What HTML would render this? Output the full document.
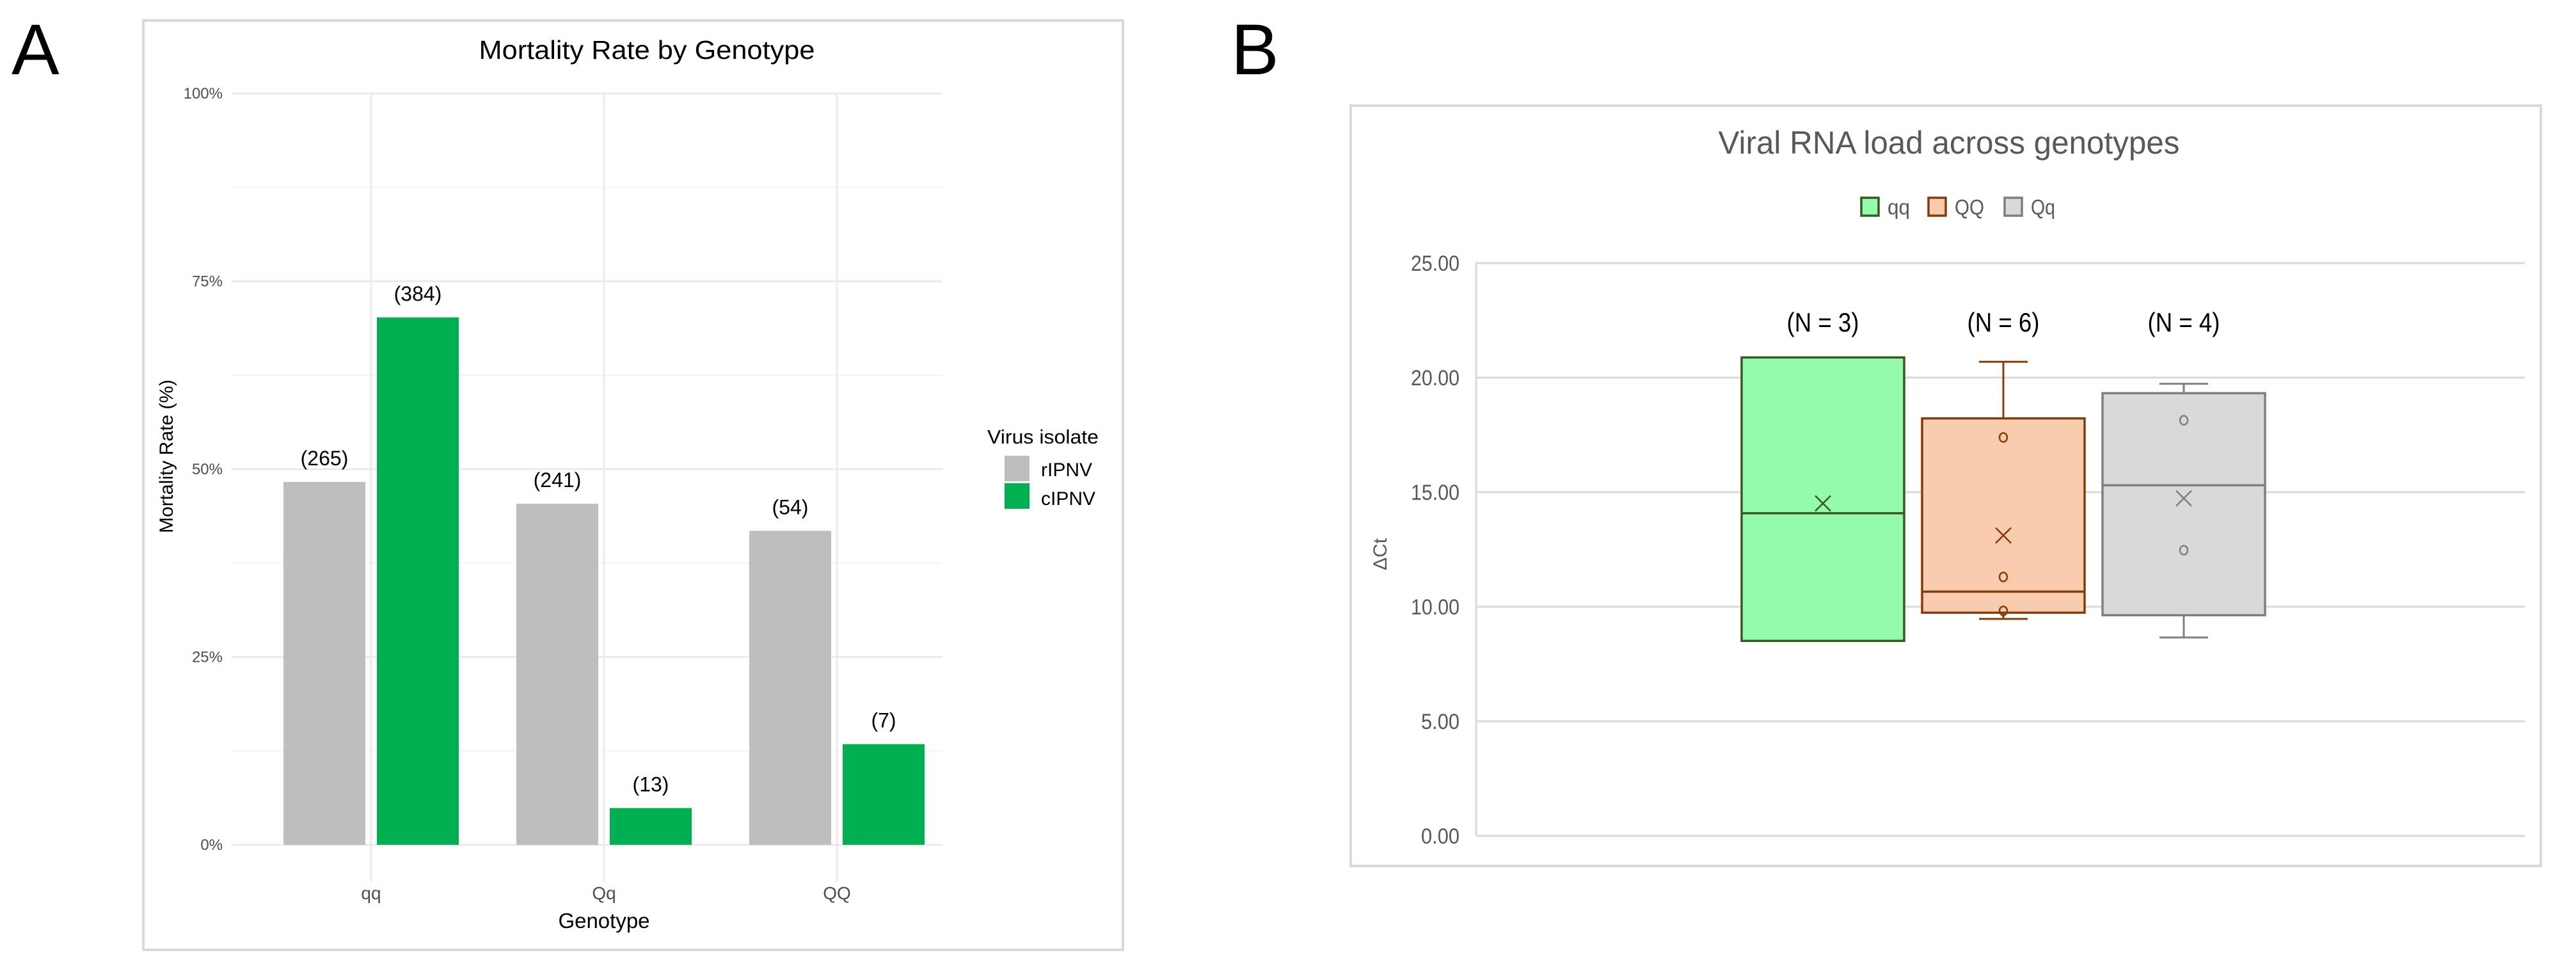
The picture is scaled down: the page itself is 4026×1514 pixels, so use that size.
<!DOCTYPE html>
<html><head><meta charset="utf-8"><style>
html,body{margin:0;padding:0;background:#fff;}
svg{display:block;}
text{font-family:"Liberation Sans",sans-serif;}
.n{font-family:"Liberation Sans Narrow","Liberation Sans",sans-serif;}
</style></head><body>
<svg id="root" width="4026" height="1514" viewBox="0 0 4026 1514" xmlns="http://www.w3.org/2000/svg">
<text x="18" y="116" font-size="112" fill="#000">A</text>
<text x="1924" y="116" font-size="112" fill="#000">B</text>
<rect x="224" y="32" width="1531" height="1452" fill="#fff" stroke="#d9d9d9" stroke-width="4"/>
<rect x="2111" y="165" width="1860" height="1188" fill="#fff" stroke="#d9d9d9" stroke-width="4"/>
<g id="chartA"></g>
<g id="chartB"></g>
</svg>
<script>
// ---- Chart A data ----
const aCategories = ["qq", "Qq", "QQ"];
const aSeriesNames = ["rIPNV", "cIPNV"];
const aRIPNV = [48.3, 45.4, 41.8];
const aCIPNV = [70.2, 4.9, 13.4];
const aRCounts = ["(265)", "(241)", "(54)"];
const aCCounts = ["(384)", "(13)", "(7)"];
const aTicks = [0, 25, 50, 75, 100];
const aTickLabels = ["0%", "25%", "50%", "75%", "100%"];

// ---- Chart B data ----
const bSeries = ["qq", "QQ", "Qq"];
const bMin = [8.51, 9.47, 8.66];
const bQ1 = [8.51, 9.74, 9.63];
const bMedian = [14.08, 10.66, 15.30];
const bQ3 = [20.88, 18.22, 19.32];
const bMax = [20.88, 20.69, 19.73];
const bMean = [14.51, 13.11, 14.73];
const bPointsQQ = [17.39, 11.30, 9.82];
const bPointsQq = [18.14, 12.47];
const bNLabels = ["(N = 3)", "(N = 6)", "(N = 4)"];
const bTicks = [0, 5, 10, 15, 20, 25];
const bTickLabels = ["0.00", "5.00", "10.00", "15.00", "20.00", "25.00"];

const NS = "http://www.w3.org/2000/svg";
function mk(parent, tag, attrs, txt) {
  const e = document.createElementNS(NS, tag);
  for (const k in attrs) e.setAttribute(k, attrs[k]);
  if (txt !== undefined) e.textContent = txt;
  parent.appendChild(e);
  return e;
}

// ===== Chart A =====
(function () {
  const g = document.getElementById("chartA");
  const x0 = 362, x1 = 1473, yTop = 146, yBot = 1320;
  const ys = v => yBot - (v / 100) * (yBot - yTop);
  const catX = i => 580 + i * 364;
  for (let v = 12.5; v < 100; v += 25) {
    const l = mk(g, "line", {x1: x0, x2: x1, y1: ys(v), y2: ys(v), stroke: "#f4f4f4", "stroke-width": 2});
    
    
  }
  aTicks.forEach((v, i) => {
    const l = mk(g, "line", {x1: x0, x2: x1, y1: ys(v), y2: ys(v), stroke: "#ebebeb", "stroke-width": 3});
    
    
    const t = mk(g, "text", {x: 348, y: ys(v) + 8, "font-size": 24, fill: "#4d4d4d", "text-anchor": "end"}, aTickLabels[i]);
    
    
  });
  aCategories.forEach((c, i) => {
    const l = mk(g, "line", {x1: catX(i), x2: catX(i), y1: yTop, y2: 1378, stroke: "#ebebeb", "stroke-width": 3});
    
    
    const t = mk(g, "text", {x: catX(i), y: 1405, "font-size": 28, fill: "#4d4d4d", "text-anchor": "middle"}, c);
    
    
  });
  const bw = 128;
  aCategories.forEach((c, i) => {
    const gx = catX(i) - 73, cx = catX(i) + 73;
    const r1 = mk(g, "rect", {x: gx - bw / 2, y: ys(aRIPNV[i]), width: bw, height: yBot - ys(aRIPNV[i]), fill: "#bebebe"});
    
    
    const r2 = mk(g, "rect", {x: cx - bw / 2, y: ys(aCIPNV[i]), width: bw, height: yBot - ys(aCIPNV[i]), fill: "#00b050"});
    
    
    const t1 = mk(g, "text", {x: gx, y: ys(aRIPNV[i]) - 26, "font-size": 32, fill: "#000", "text-anchor": "middle"}, aRCounts[i]);
    
    
    const t2 = mk(g, "text", {x: cx, y: ys(aCIPNV[i]) - 26, "font-size": 32, fill: "#000", "text-anchor": "middle"}, aCCounts[i]);
    
    
  });
  let t = mk(g, "text", {x: 1011, y: 92, "font-size": 41, fill: "#000", "text-anchor": "middle", textLength: 525, lengthAdjust: "spacingAndGlyphs"}, "Mortality Rate by Genotype");
  
  
  t = mk(g, "text", {x: 944, y: 1450, "font-size": 33, fill: "#000", "text-anchor": "middle"}, "Genotype");
  
  
  t = mk(g, "text", {x: 0, y: 0, "font-size": 30, fill: "#000", "text-anchor": "middle", transform: "translate(270,713) rotate(-90)"}, "Mortality Rate (%)");
  
  
  t = mk(g, "text", {x: 1543, y: 693, "font-size": 31, fill: "#000", textLength: 174, lengthAdjust: "spacingAndGlyphs"}, "Virus isolate");
  
  
  const cols = ["#bebebe", "#00b050"];
  aSeriesNames.forEach((s, i) => {
    const r = mk(g, "rect", {x: 1570, y: 712 + i * 43, width: 39, height: 40, fill: cols[i]});
    
    
    const l = mk(g, "text", {x: 1627, y: 744 + i * 45, "font-size": 30, fill: "#000"}, s);
    
    
  });
})();

// ===== Chart B =====
(function () {
  const g = document.getElementById("chartB");
  const x0 = 2307, x1 = 3946, yTop = 411, yBot = 1306;
  const ys = v => yBot - (v / 25) * (yBot - yTop);
  const cx = i => 2849 + i * 282;
  const bw = 254;
  const fills = ["#94fbaa", "#f8cbad", "#d9d9d9"];
  const strokes = ["#385723", "#843c0c", "#7f7f7f"];
  bTicks.forEach((v, i) => {
    const l = mk(g, "line", {x1: x0, x2: x1, y1: ys(v), y2: ys(v), stroke: "#d9d9d9", "stroke-width": 3});
    
    
    const lab = bTickLabels[i];
    const t = mk(g, "text", {x: 2281, y: ys(v) + 12, "font-size": 34, fill: "#595959", "text-anchor": "end", "class": "n", textLength: lab.length === 5 ? 76 : 60, lengthAdjust: "spacingAndGlyphs"}, lab);
    
    
  });
  const ax = mk(g, "line", {x1: x0, x2: x0, y1: yTop, y2: yBot, stroke: "#d9d9d9", "stroke-width": 3});
  
  
  const pts = [[], bPointsQQ, bPointsQq];
  bSeries.forEach((s, i) => {
    const c = cx(i), st = strokes[i];
    if (bMax[i] > bQ3[i]) {
      const w = mk(g, "line", {x1: c, x2: c, y1: ys(bMax[i]), y2: ys(bQ3[i]), stroke: st, "stroke-width": 3});
      
      
      const cp = mk(g, "line", {x1: c - 38, x2: c + 38, y1: ys(bMax[i]), y2: ys(bMax[i]), stroke: st, "stroke-width": 3});
      
      
    }
    if (bMin[i] < bQ1[i]) {
      const w = mk(g, "line", {x1: c, x2: c, y1: ys(bQ1[i]), y2: ys(bMin[i]), stroke: st, "stroke-width": 3});
      
      
      const cp = mk(g, "line", {x1: c - 38, x2: c + 38, y1: ys(bMin[i]), y2: ys(bMin[i]), stroke: st, "stroke-width": 3});
      
      
    }
    const b = mk(g, "rect", {x: c - bw / 2, y: ys(bQ3[i]), width: bw, height: ys(bQ1[i]) - ys(bQ3[i]), fill: fills[i], stroke: st, "stroke-width": 3.5});
    
    
    const m = mk(g, "line", {x1: c - bw / 2, x2: c + bw / 2, y1: ys(bMedian[i]), y2: ys(bMedian[i]), stroke: st, "stroke-width": 3.5});
    
    
    const my = ys(bMean[i]);
    const mx = mk(g, "path", {d: `M${c - 12},${my - 12}L${c + 12},${my + 12}M${c + 12},${my - 12}L${c - 12},${my + 12}`, stroke: st, "stroke-width": 2.5, fill: "none"});
    
    
    pts[i].forEach(p => {
      const e = mk(g, "ellipse", {cx: c, cy: ys(p), rx: 6, ry: 7, fill: "none", stroke: st, "stroke-width": 2.5});
      
      
    });
    const n = mk(g, "text", {x: c, y: 518, "font-size": 42, fill: "#000", "text-anchor": "middle", "class": "n", textLength: 113, lengthAdjust: "spacingAndGlyphs"}, bNLabels[i]);
    
    
  });
  let t = mk(g, "text", {x: 3046, y: 240, "font-size": 50, fill: "#595959", "text-anchor": "middle", "class": "n", textLength: 721, lengthAdjust: "spacingAndGlyphs"}, "Viral RNA load across genotypes");
  
  
  t = mk(g, "text", {x: 0, y: 0, "font-size": 30, fill: "#595959", "text-anchor": "middle", transform: "translate(2167,866) rotate(-90)"}, "ΔCt");
  
  
  const lx = [2907, 3012, 3131];
  const lw = [35, 46, 38];
  bSeries.forEach((s, i) => {
    const r = mk(g, "rect", {x: lx[i] + 2, y: 309, width: 27, height: 28, fill: fills[i], stroke: strokes[i], "stroke-width": 3.5});
    
    
    const l = mk(g, "text", {x: lx[i] + 43, y: 335, "font-size": 33, fill: "#595959", "class": "n", textLength: lw[i], lengthAdjust: "spacingAndGlyphs"}, s);
    
    
  });
})();
</script>
</body></html>
